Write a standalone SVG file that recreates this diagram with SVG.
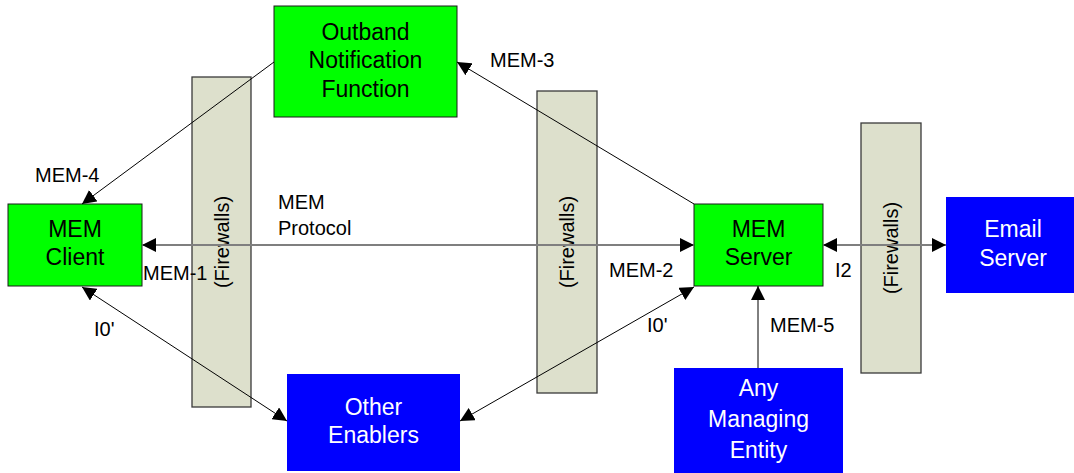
<svg xmlns="http://www.w3.org/2000/svg" width="1074" height="473" viewBox="0 0 1074 473">
<style>
.green{fill:#00FF00;stroke:#1a1a1a;stroke-width:1}
.blue{fill:#0000FF;stroke:none}
.fw{fill:#DDE0CC;stroke:#3a3a3a;stroke-width:1.3}
.nt{font-family:"Liberation Sans",Arial,sans-serif;font-size:23px;text-anchor:middle;fill:#000}
.wt{font-family:"Liberation Sans",Arial,sans-serif;font-size:23px;text-anchor:middle;fill:#fff}
.lb{font-family:"Liberation Sans",Arial,sans-serif;font-size:20px;fill:#000}
.fwt{font-family:"Liberation Sans",Arial,sans-serif;font-size:20px;text-anchor:middle;fill:#000}
.thin{stroke:#000;stroke-width:1;fill:none}
.gray{stroke:#7f7f7f;stroke-width:2;fill:none}
</style>
<defs>
<marker id="ah" markerUnits="userSpaceOnUse" markerWidth="14" markerHeight="14" viewBox="0 0 13 13" refX="13" refY="6.5" orient="auto-start-reverse">
<path d="M0,0 L13,6.5 L0,13 z" fill="#000"/>
</marker>
</defs>
<rect width="1074" height="473" fill="#fff"/>

<g id="firewall1"><rect class="fw" x="192" y="77" width="59" height="330"/><text class="fwt" transform="translate(228.5,242) rotate(-90)">(Firewalls)</text></g>
<g id="firewall2"><rect class="fw" x="537" y="91" width="60" height="302"/><text class="fwt" transform="translate(574,242) rotate(-90)">(Firewalls)</text></g>
<g id="firewall3"><rect class="fw" x="861" y="123" width="60" height="250"/><text class="fwt" transform="translate(898,248) rotate(-90)">(Firewalls)</text></g>

<g id="outband"><rect class="green" x="274" y="6" width="183" height="111"/><text class="nt" x="365.5" y="40">Outband</text><text class="nt" x="365.5" y="68">Notification</text><text class="nt" x="365.5" y="97">Function</text></g>
<g id="memclient"><rect class="green" x="8" y="204" width="134" height="82"/><text class="nt" x="75" y="237">MEM</text><text class="nt" x="75" y="265">Client</text></g>
<g id="memserver"><rect class="green" x="694" y="204" width="129" height="82"/><text class="nt" x="758.5" y="237">MEM</text><text class="nt" x="758.5" y="265">Server</text></g>
<g id="emailserver"><rect class="blue" x="946" y="197" width="134" height="96"/><text class="wt" x="1013" y="237">Email</text><text class="wt" x="1013" y="266">Server</text></g>
<g id="otherenablers"><rect class="blue" x="287" y="374" width="173" height="97"/><text class="wt" x="373.5" y="415">Other</text><text class="wt" x="373.5" y="443">Enablers</text></g>
<g id="managingentity"><rect class="blue" x="674" y="368" width="169" height="105"/><text class="wt" x="758.5" y="396">Any</text><text class="wt" x="758.5" y="427">Managing</text><text class="wt" x="758.5" y="458">Entity</text></g>

<g id="connectors">
<line class="gray" x1="142" y1="245" x2="694" y2="245" marker-start="url(#ah)" marker-end="url(#ah)"/>
<line class="gray" x1="823" y1="245" x2="946" y2="245" marker-start="url(#ah)" marker-end="url(#ah)"/>
<line class="thin" x1="694" y1="204" x2="457" y2="62" marker-end="url(#ah)"/>
<line class="thin" x1="274" y1="62" x2="82" y2="204" marker-end="url(#ah)"/>
<line class="thin" x1="82" y1="287" x2="287" y2="421" marker-start="url(#ah)" marker-end="url(#ah)"/>
<line class="thin" x1="694" y1="287" x2="460" y2="421" marker-start="url(#ah)" marker-end="url(#ah)"/>
<line class="thin" x1="758" y1="368" x2="758" y2="286" marker-end="url(#ah)"/>
</g>

<g id="labels">
<text class="lb" x="490" y="67">MEM-3</text>
<text class="lb" x="35" y="182">MEM-4</text>
<text class="lb" x="278" y="209">MEM</text>
<text class="lb" x="278" y="235">Protocol</text>
<text class="lb" x="143" y="280">MEM-1</text>
<text class="lb" x="609" y="277">MEM-2</text>
<text class="lb" x="835" y="277">I2</text>
<text class="lb" x="94" y="336">I0'</text>
<text class="lb" x="647" y="332">I0'</text>
<text class="lb" x="770" y="332">MEM-5</text>
</g>
</svg>
